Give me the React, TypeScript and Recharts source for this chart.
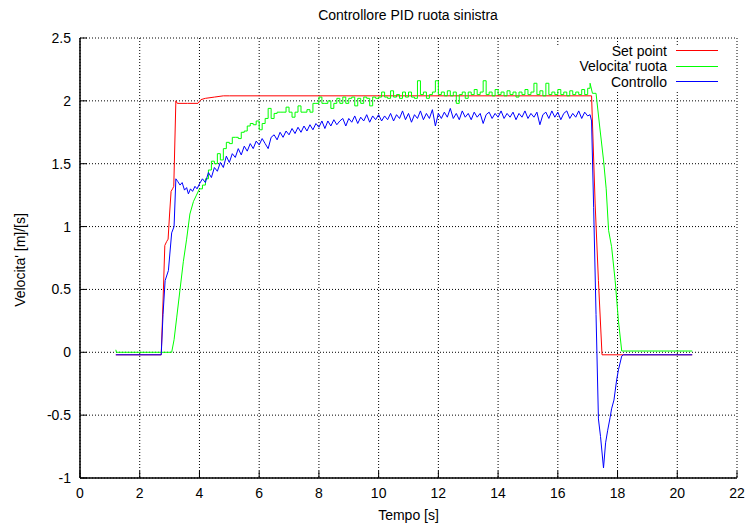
import { CartesianGrid, Line, LineChart, ReferenceArea, XAxis, YAxis } from "recharts";

const xTicks = [0, 2, 4, 6, 8, 10, 12, 14, 16, 18, 20, 22];
const yTicks = [-1, -0.5, 0, 0.5, 1, 1.5, 2, 2.5];

// set point (reference speed)
const setPointTime = [
  1.2, 2.72, 2.78, 2.84, 2.9, 2.95, 3.0, 3.05, 3.1, 3.14, 3.21, 3.26, 3.6, 3.95,
  4.05, 4.2, 4.5, 4.8, 5.0, 17.13, 17.25, 17.36, 17.48, 20.5,
];
const setPointSpeed = [
  -0.02, -0.02, 0.4, 0.85, 0.88, 0.9, 1.1, 1.28, 1.3, 1.32, 2.0, 1.98, 1.98, 1.98,
  2.01, 2.02, 2.03, 2.04, 2.04, 2.04, 1.18, 0.57, -0.02, -0.02,
];

// common sampling grid for the noisy middle part
const gridTime = [
  4.0, 4.1, 4.2, 4.3, 4.4, 4.5, 4.6, 4.7, 4.8, 4.9,
  5.0, 5.1, 5.2, 5.3, 5.4, 5.5, 5.6, 5.7, 5.8, 5.9,
  6.0, 6.1, 6.2, 6.3, 6.4, 6.5, 6.6, 6.7, 6.8, 6.9,
  7.0, 7.1, 7.2, 7.3, 7.4, 7.5, 7.6, 7.7, 7.8, 7.9,
  8.0, 8.1, 8.2, 8.3, 8.4, 8.5, 8.6, 8.7, 8.8, 8.9,
  9.0, 9.1, 9.2, 9.3, 9.4, 9.5, 9.6, 9.7, 9.8, 9.9,
  10.0, 10.1, 10.2, 10.3, 10.4, 10.5, 10.6, 10.7, 10.8, 10.9,
  11.0, 11.1, 11.2, 11.3, 11.4, 11.5, 11.6, 11.7, 11.8, 11.9,
  12.0, 12.1, 12.2, 12.3, 12.4, 12.5, 12.6, 12.7, 12.8, 12.9,
  13.0, 13.1, 13.2, 13.3, 13.4, 13.5, 13.6, 13.7, 13.8, 13.9,
  14.0, 14.1, 14.2, 14.3, 14.4, 14.5, 14.6, 14.7, 14.8, 14.9,
  15.0, 15.1, 15.2, 15.3, 15.4, 15.5, 15.6, 15.7, 15.8, 15.9,
  16.0, 16.1, 16.2, 16.3, 16.4, 16.5, 16.6, 16.7, 16.8, 16.9,
  17.0,
];

// measured wheel speed
const wheelHeadTime = [1.2, 1.22, 3.07, 3.15, 3.24, 3.35, 3.46, 3.57, 3.68, 3.8, 3.9];
const wheelHead = [0.02, 0, 0, 0.1, 0.28, 0.5, 0.72, 0.9, 1.1, 1.2, 1.25];
const wheelGrid = [
  1.30, 1.33, 1.38, 1.45, 1.52, 1.50, 1.58, 1.53, 1.62, 1.67,
  1.66, 1.71, 1.71, 1.70, 1.75, 1.76, 1.80, 1.82, 1.81, 1.84,
  1.77, 1.82, 1.86, 1.94, 1.86, 1.90, 1.91, 1.91, 1.91, 1.95,
  1.91, 1.87, 1.91, 1.96, 1.91, 1.91, 1.93, 1.91, 1.98, 1.98,
  2.03, 1.98, 1.98, 2.00, 1.94, 1.98, 2.02, 1.98, 2.03, 1.98,
  2.02, 2.03, 1.96, 2.02, 1.98, 2.03, 2.02, 1.96, 2.03, 2.02,
  2.03, 2.07, 2.03, 2.02, 2.08, 2.03, 2.05, 2.02, 2.07, 2.03,
  2.07, 2.03, 2.02, 2.16, 2.05, 2.07, 2.02, 2.05, 2.07, 2.16,
  2.05, 2.07, 2.04, 2.08, 2.04, 2.07, 1.98, 2.05, 2.07, 2.02,
  2.07, 2.05, 2.09, 2.05, 2.07, 2.16, 2.05, 2.07, 2.04, 2.09,
  2.05, 2.07, 2.04, 2.08, 2.05, 2.07, 2.03, 2.07, 2.05, 2.09,
  2.05, 2.07, 2.14, 2.05, 2.08, 2.04, 2.14, 2.05, 2.07, 2.05,
  2.09, 2.05, 2.07, 2.04, 2.08, 2.05, 2.07, 2.05, 2.09, 2.05,
  2.10,
];
const wheelTailTime = [17.08, 17.16, 17.28, 17.4, 17.53, 17.62, 17.7, 17.8, 17.92, 18.03, 18.14, 20.5];
const wheelTail = [2.14, 2.06, 2.06, 1.8, 1.53, 1.3, 0.97, 0.84, 0.57, 0.25, 0.01, 0.01];

// controller output
const controlHeadTime = [
  1.2, 2.72, 2.78, 2.85, 2.96, 3.07, 3.15, 3.21, 3.27, 3.35, 3.42, 3.5, 3.57, 3.63,
  3.7, 3.77, 3.85, 3.92,
];
const controlHead = [
  -0.02, -0.02, 0.3, 0.57, 0.65, 0.95, 1.0, 1.38, 1.36, 1.33, 1.35, 1.29, 1.31, 1.26,
  1.3, 1.28, 1.32, 1.3,
];
const controlGrid = [
  1.34, 1.38, 1.35, 1.43, 1.39, 1.47, 1.44, 1.51, 1.47, 1.56,
  1.51, 1.58, 1.55, 1.62, 1.57, 1.64, 1.60, 1.66, 1.62, 1.68,
  1.65, 1.70, 1.66, 1.62, 1.71, 1.73, 1.69, 1.75, 1.71, 1.76,
  1.73, 1.78, 1.74, 1.79, 1.75, 1.80, 1.76, 1.81, 1.77, 1.82,
  1.79, 1.84, 1.78, 1.84, 1.80, 1.85, 1.81, 1.84, 1.86, 1.80,
  1.86, 1.83, 1.88, 1.82, 1.87, 1.84, 1.89, 1.83, 1.88, 1.85,
  1.89, 1.84, 1.88, 1.85, 1.90, 1.84, 1.89, 1.86, 1.92, 1.85,
  1.90, 1.83, 1.89, 1.86, 1.92, 1.85, 1.90, 1.86, 1.93, 1.80,
  1.90, 1.86, 1.91, 1.87, 1.94, 1.86, 1.90, 1.85, 1.92, 1.87,
  1.90, 1.85, 1.91, 1.87, 1.90, 1.82, 1.89, 1.91, 1.86, 1.90,
  1.87, 1.92, 1.86, 1.90, 1.87, 1.91, 1.85, 1.90, 1.87, 1.92,
  1.86, 1.90, 1.87, 1.91, 1.81, 1.89, 1.91, 1.86, 1.92, 1.87,
  1.91, 1.85, 1.90, 1.92, 1.86, 1.90, 1.87, 1.92, 1.86, 1.91,
  1.88,
];
const controlTailTime = [
  17.08, 17.13, 17.2, 17.28, 17.36, 17.43, 17.53, 17.6, 17.67, 17.75, 17.8, 17.88,
  17.97, 18.03, 18.14, 18.2, 20.5,
];
const controlTail = [
  1.89, 1.84, 1.15, 0.3, -0.53, -0.67, -0.92, -0.72, -0.62, -0.52, -0.45, -0.38,
  -0.22, -0.14, -0.03, -0.02, -0.02,
];

const toPoints = (times: number[], values: number[]) =>
  times.map((t, i) => ({ t, v: values[i] }));

const setPointData = toPoints(setPointTime, setPointSpeed);
// wheel: ramps drawn straight, quantised middle part drawn as steps
const wheelRiseData = toPoints([...wheelHeadTime, gridTime[0]], [...wheelHead, wheelGrid[0]]);
const wheelSteadyData = toPoints([...gridTime, wheelTailTime[0]], [...wheelGrid, wheelTail[0]]);
const wheelFallData = toPoints(wheelTailTime, wheelTail);
const controlData = toPoints(
  [...controlHeadTime, ...gridTime, ...controlTailTime],
  [...controlHead, ...controlGrid, ...controlTail]
);

const legendItems = [
  { name: "Set point", color: "#ff0000" },
  { name: "Velocita' ruota", color: "#00ff00" },
  { name: "Controllo", color: "#0000ff" },
];

const font = "'Liberation Sans', Arial, Helvetica, sans-serif";
const lineProps = { dataKey: "v", strokeWidth: 1, dot: false, isAnimationActive: false } as const;

// gnuplot draws short ticks pointing into the plot on every side
const BottomTick = ({ x, y, payload }: any) => (
  <g>
    <line x1={x} x2={x} y1={y - 10} y2={y - 17} stroke="#000" />
    <text x={x} y={y} dy={10} textAnchor="middle" fontSize={14} fontFamily={font} fill="#000">
      {payload.value}
    </text>
  </g>
);
const LeftTick = ({ x, y, payload }: any) => (
  <g>
    <line x1={x + 9} x2={x + 16} y1={y} y2={y} stroke="#000" />
    <text x={x} y={y} dy={5} textAnchor="end" fontSize={14} fontFamily={font} fill="#000">
      {payload.value}
    </text>
  </g>
);
const TopTick = ({ x, y }: any) => <line x1={x} x2={x} y1={y} y2={y + 7} stroke="#000" />;
const RightTick = ({ x, y }: any) => <line x1={x} x2={x - 7} y1={y} y2={y} stroke="#000" />;

export default function App() {
  return (
    <div
      style={{
        position: "absolute",
        left: 0,
        top: 0,
        width: 747,
        height: 526,
        background: "#fff",
        fontFamily: font,
        color: "#000",
      }}
    >
      <LineChart width={747} height={526} margin={{ top: 38, right: 10, bottom: 0, left: 0 }}>
        <CartesianGrid stroke="#000" strokeDasharray="1 2" strokeWidth={1} />
        {/* key box clears the grid behind the legend */}
        <ReferenceArea x1={15.5} x2={21.9} y1={2.085} y2={2.44} fill="#fff" fillOpacity={1} stroke="none" />
        <XAxis
          dataKey="t"
          type="number"
          domain={[0, 22]}
          ticks={xTicks}
          interval={0}
          height={48}
          tickSize={0}
          tickLine={false}
          tickMargin={10}
          tick={<BottomTick />}
          stroke="#000"
          strokeWidth={1.5}
          label={{ value: "Tempo [s]", position: "insideBottom", offset: 6, fontSize: 14, fill: "#000", fontFamily: font }}
        />
        <XAxis xAxisId="top" orientation="top" mirror dataKey="t" type="number" domain={[0, 22]}
          ticks={xTicks} interval={0} height={0} tickSize={0} tickMargin={0} tickLine={false}
          tick={<TopTick />} stroke="#000" strokeWidth={1.5} />
        <YAxis
          type="number"
          domain={[-1, 2.5]}
          ticks={yTicks}
          interval={0}
          width={80}
          tickSize={0}
          tickLine={false}
          tickMargin={9}
          tick={<LeftTick />}
          stroke="#000"
          strokeWidth={1.5}
        />
        <YAxis yAxisId="right" orientation="right" mirror type="number" domain={[-1, 2.5]}
          ticks={yTicks} interval={0} width={0} tickSize={0} tickMargin={0} tickLine={false}
          tick={<RightTick />} stroke="#000" strokeWidth={1.5} />
        <Line {...lineProps} data={setPointData} type="linear" stroke="#ff0000" xAxisId="top" yAxisId="right" />
        <Line {...lineProps} data={wheelRiseData} type="linear" stroke="#00ff00" />
        <Line {...lineProps} data={wheelSteadyData} type="stepAfter" stroke="#00ff00" />
        <Line {...lineProps} data={wheelFallData} type="linear" stroke="#00ff00" />
        <Line {...lineProps} data={controlData} type="linear" stroke="#0000ff" />
      </LineChart>

      <div style={{ position: "absolute", left: 308, top: 6, width: 200, textAlign: "center", fontSize: 14, lineHeight: "18px" }}>
        Controllore PID ruota sinistra
      </div>
      <div
        style={{
          position: "absolute",
          left: -80,
          top: 251,
          width: 200,
          height: 18,
          lineHeight: "18px",
          textAlign: "center",
          fontSize: 14,
          transform: "rotate(-90deg)",
        }}
      >
        Velocita' [m]/[s]
      </div>
      <div style={{ position: "absolute", left: 500, top: 43, width: 218, fontSize: 14 }}>
        {legendItems.map((item) => (
          <div key={item.name} style={{ display: "flex", justifyContent: "flex-end", alignItems: "center", height: 15.5 }}>
            <span style={{ whiteSpace: "nowrap" }}>{item.name}</span>
            <div style={{ width: 42, marginLeft: 9, borderTop: `1px solid ${item.color}` }} />
          </div>
        ))}
      </div>
    </div>
  );
}
